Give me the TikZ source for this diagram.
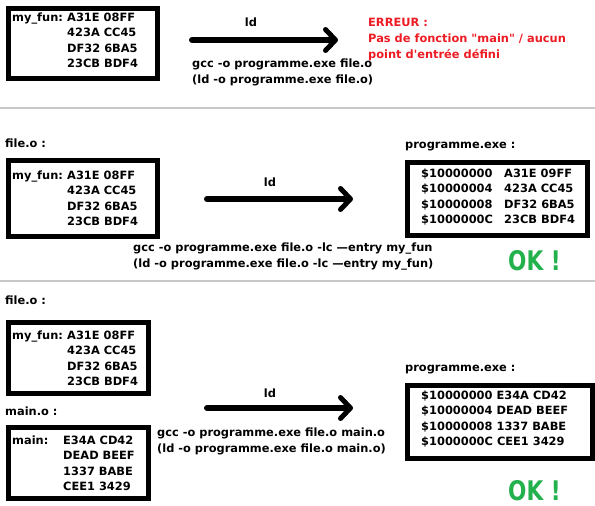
\documentclass[tikz,border=0pt]{standalone}
\usepackage{fontspec}
\newfontfamily\pxfont{DejaVu Sans}
\usetikzlibrary{arrows.meta}
\definecolor{errred}{RGB}{237,28,36}
\definecolor{okgreen}{RGB}{34,177,76}
\definecolor{sepgray}{RGB}{200,200,200}
\begin{document}
\begin{tikzpicture}[x=1pt,y=-1pt,
 txt/.style={inner sep=0pt, anchor=base west, font=\pxfont\fontsize{11.4}{15.5}\selectfont\bfseries},
 cmdtxt/.style={txt, font=\pxfont\fontsize{11.4}{16}\selectfont\bfseries},
 memo/.style={draw, line width=5pt, inner sep=0pt, anchor=north west},
 link/.style={line width=6pt, line cap=round, -{Straight Barb[length=10pt,width=21pt,line width=5pt,round]}},
 sep/.style={draw=sepgray, line width=1.5pt},
 ok/.style={inner sep=0pt, anchor=base west, text=okgreen, font=\pxfont\fontsize{27}{27}\selectfont\bfseries}]
\useasboundingbox (0,0) rectangle (595,506);
\fill[white] (0,0) rectangle (595,506);

% ---------- section 1
\node[memo, minimum width=149pt, minimum height=70pt] (box1) at (5.5,5.5) {};
\node[txt] (rows1) at (12,21) {\begin{tabular}[t]{@{}l@{}l@{}}\makebox[55pt][l]{my\_fun:}&A31E 08FF\\&423A CC45\\&DF32 6BA5\\&23CB BDF4\end{tabular}};
\coordinate (s1) at (192,40); \coordinate (e1) at (338,40);
\draw[link] (s1) -- (e1);
\node[txt, anchor=base] (ld1) at (251,26) {ld};
\node[cmdtxt] (cmd1) at (192,67) {\begin{tabular}[t]{@{}l@{}}gcc -o programme.exe file.o\\(ld -o programme.exe file.o)\end{tabular}};
\node[cmdtxt, text=errred] (err) at (368,27) {\begin{tabular}[t]{@{}l@{}}ERREUR :\\Pas de fonction "main" / aucun\\point d'entrée défini\end{tabular}};

\coordinate (l1a) at (0,108); \coordinate (l1b) at (595,108);
\draw[sep] (l1a) -- (l1b);

% ---------- section 2
\node[txt] (lab2) at (5,147) {file.o :};
\node[memo, minimum width=149pt, minimum height=76pt] (box2) at (5.5,157.5) {};
\node[txt] (rows2) at (12,179) {\begin{tabular}[t]{@{}l@{}l@{}}\makebox[55pt][l]{my\_fun:}&A31E 08FF\\&423A CC45\\&DF32 6BA5\\&23CB BDF4\end{tabular}};
\coordinate (s2) at (207,199); \coordinate (e2) at (353,199);
\draw[link] (s2) -- (e2);
\node[txt, anchor=base] (ld2) at (270,186) {ld};
\node[cmdtxt] (cmd2) at (133,251) {\begin{tabular}[t]{@{}l@{}}gcc -o programme.exe file.o -lc —entry my\_fun\\(ld -o programme.exe file.o -lc —entry my\_fun)\end{tabular}};
\node[txt] (lab2r) at (405,148) {programme.exe :};
\node[memo, minimum width=180pt, minimum height=73pt] (box2r) at (404.5,159.5) {};
\node[txt] (rows2r) at (421,177) {\begin{tabular}[t]{@{}l@{}l@{}}\makebox[83pt][l]{\$10000000}&A31E 09FF\\\$10000004&423A CC45\\\$10000008&DF32 6BA5\\\$1000000C&23CB BDF4\end{tabular}};
\node[ok] (ok2) at (508,270) {\scalebox{0.8}[1]{OK !}};

\coordinate (l2a) at (0,281); \coordinate (l2b) at (595,281);
\draw[sep] (l2a) -- (l2b);

% ---------- section 3
\node[txt] (lab3) at (5,304) {file.o :};
\node[memo, minimum width=140pt, minimum height=71pt] (box3) at (5.5,319.5) {};
\node[txt] (rows3) at (12,339) {\begin{tabular}[t]{@{}l@{}l@{}}\makebox[55pt][l]{my\_fun:}&A31E 08FF\\&423A CC45\\&DF32 6BA5\\&23CB BDF4\end{tabular}};
\node[txt] (lab3m) at (5,415) {main.o :};
\node[memo, minimum width=140pt, minimum height=71pt] (box3m) at (5.5,424.5) {};
\node[txt] (rows3m) at (12,444) {\begin{tabular}[t]{@{}l@{}l@{}}\makebox[51pt][l]{main:}&E34A CD42\\&DEAD BEEF\\&1337 BABE\\&CEE1 3429\end{tabular}};
\coordinate (s3) at (207,408); \coordinate (e3) at (353,408);
\draw[link] (s3) -- (e3);
\node[txt, anchor=base] (ld3) at (270,397) {ld};
\node[cmdtxt] (cmd3) at (157,436) {\begin{tabular}[t]{@{}l@{}}gcc -o programme.exe file.o main.o\\(ld -o programme.exe file.o main.o)\end{tabular}};
\node[txt] (lab3r) at (405,371) {programme.exe :};
\node[memo, minimum width=185pt, minimum height=73pt] (box3r) at (404.5,382.5) {};
\node[txt] (rows3r) at (421,399) {\begin{tabular}[t]{@{}l@{}}\$10000000 E34A CD42\\\$10000004 DEAD BEEF\\\$10000008 1337 BABE\\\$1000000C CEE1 3429\end{tabular}};
\node[ok] (ok3) at (508,500) {\scalebox{0.8}[1]{OK !}};
\end{tikzpicture}
\end{document}
